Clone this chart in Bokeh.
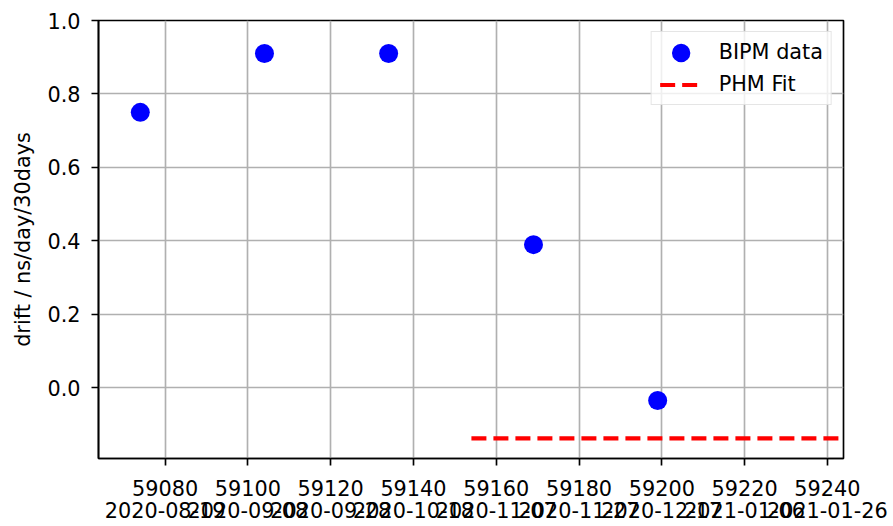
from bokeh.plotting import figure
from bokeh.models import (Range1d, FixedTicker, PrintfTickFormatter, Legend, LegendItem,
                          ColumnDataSource, LinearAxis)
from bokeh.embed import file_html
from bokeh.resources import INLINE

# ---- data ----
mjd = [59074, 59104, 59134, 59169, 59199]
drift = [0.75, 0.91, 0.91, 0.39, -0.034]
fit_mjd = [59154, 59244]
fit_drift = [-0.137, -0.137]

x_ticks = [59080, 59100, 59120, 59140, 59160, 59180, 59200, 59220, 59240]
date_labels = ["2020-08-19", "2020-09-08", "2020-09-28", "2020-10-18", "2020-11-07",
               "2020-11-27", "2020-12-17", "2021-01-06", "2021-01-26"]
y_ticks = [0.0, 0.2, 0.4, 0.6, 0.8, 1.0]

FONT = "DejaVu Sans"
FS = "20.8px"
LW = 1.67

p = figure(frame_width=745, frame_height=438,
           min_border_left=98, min_border_right=48, min_border_top=20, min_border_bottom=68,
           x_range=Range1d(59063.9, 59243.9), y_range=Range1d(-0.192, 1.0),
           output_backend="svg", toolbar_location=None, tools="")

p.outline_line_color = "black"
p.outline_line_width = LW

src = ColumnDataSource(dict(x=mjd, y=drift))
fit_src = ColumnDataSource(dict(x=fit_mjd, y=fit_drift))

r_pts = p.ellipse(x="x", y="y", width=19, height=19, width_units="screen", height_units="screen",
                  source=src, fill_color="blue", line_color=None)
r_fit = p.line(x="x", y="y", source=fit_src, line_color="red", line_width=4.17,
               line_dash="15 7", line_cap="butt")

# second x axis carrying the calendar dates
date_axis = LinearAxis(ticker=FixedTicker(ticks=x_ticks),
                       major_label_overrides={t: d for t, d in zip(x_ticks, date_labels)},
                       axis_line_color=None, major_tick_line_color=None,
                       minor_tick_line_color=None, major_tick_in=0, major_tick_out=0,
                       major_label_standoff=3,
                       major_label_text_font=FONT, major_label_text_font_size=FS,
                       major_label_text_color="black")
p.add_layout(date_axis, "below")

p.xaxis[0].ticker = FixedTicker(ticks=x_ticks)
p.yaxis.ticker = FixedTicker(ticks=y_ticks)
p.yaxis.formatter = PrintfTickFormatter(format="%.1f")
p.yaxis.axis_label = "drift / ns/day/30days"

for ax in (p.xaxis[0], p.yaxis[0]):
    ax.axis_line_color = "black"
    ax.axis_line_width = LW
    ax.major_tick_line_color = "black"
    ax.major_tick_line_width = LW
    ax.major_tick_in = 0
    ax.major_tick_out = 7
    ax.minor_tick_line_color = None
    ax.major_label_text_font = FONT
    ax.major_label_text_font_size = FS
    ax.major_label_text_color = "black"
    ax.axis_label_text_font = FONT
    ax.axis_label_text_font_size = FS
    ax.axis_label_text_font_style = "normal"
    ax.axis_label_text_color = "black"

p.xaxis[0].major_label_standoff = 14
p.yaxis.major_label_standoff = 11
p.yaxis.axis_label_standoff = 9

p.grid.grid_line_color = "#b0b0b0"
p.grid.grid_line_width = LW

legend = Legend(items=[LegendItem(label="BIPM data", renderers=[r_pts]),
                       LegendItem(label="PHM Fit", renderers=[r_fit])],
                location="top_right", margin=11, padding=8, spacing=8,
                glyph_width=42, glyph_height=23, label_height=21, label_standoff=17,
                label_text_font=FONT, label_text_font_size=FS, label_text_color="black",
                border_line_color="#cccccc", border_line_width=LW,
                background_fill_color="white", background_fill_alpha=0.8)
p.add_layout(legend)

open("out.html", "w").write(file_html(p, INLINE))
